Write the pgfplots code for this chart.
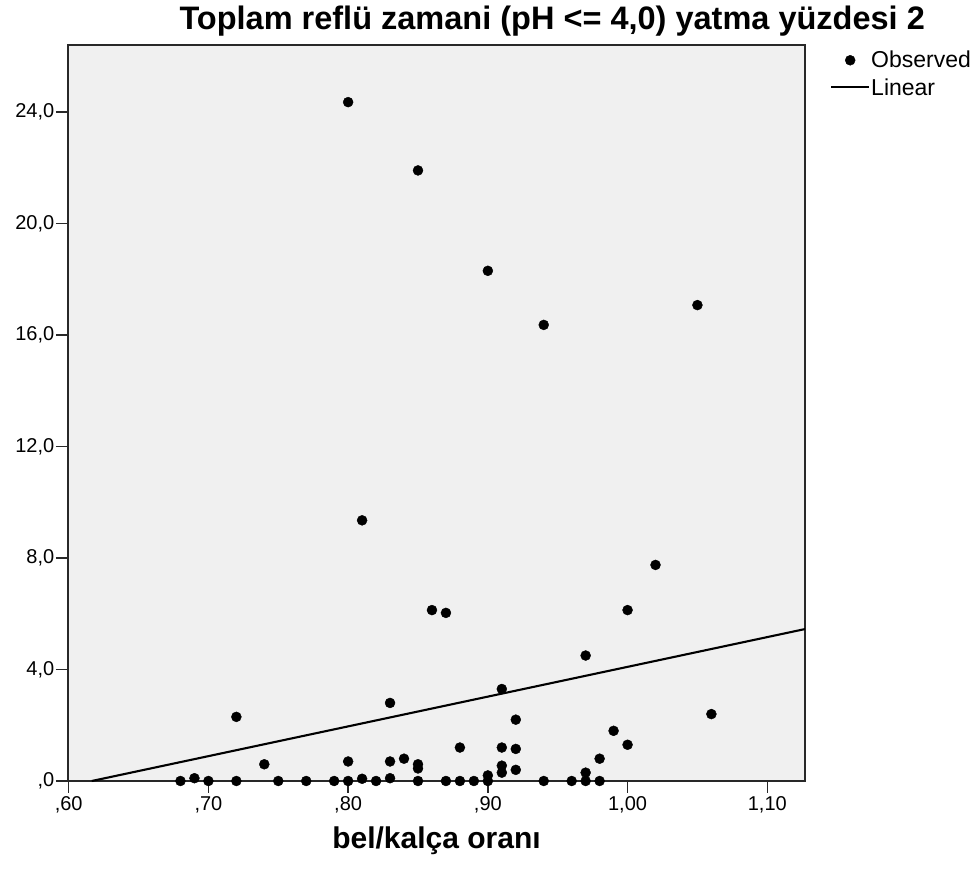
\documentclass[border=0pt]{standalone}
\usepackage{pgfplots}
\pgfplotsset{compat=1.18}
\usepackage{fontspec}
\setmainfont{Liberation Sans}
\definecolor{plotbg}{RGB}{240,240,240}
\definecolor{frame}{RGB}{40,40,40}
\pgfkeys{/pgfplots/obslegend/.code={\pgfplotsset{legend image code/.code={\draw[mark repeat=2,mark phase=2,##1] plot coordinates {(0pt,0pt) (19pt,0pt) (38pt,0pt)};}}}}
\pgfkeys{/pgfplots/linlegend/.code={\pgfplotsset{legend image code/.code={\draw[##1, line width=2pt] (0pt,0pt) -- (38pt,0pt);}}}}
\begin{document}
\begin{tikzpicture}
\begin{axis}[
  scale only axis,
  width=737pt, height=736pt,
  xmin=0.5995, xmax=1.127,
  ymin=0, ymax=26.4,
  clip=false,
  axis background/.style={fill=plotbg},
  axis line style={frame, line width=1.8pt},
  xtick={0.6,0.7,0.8,0.9,1.0,1.1},
  xticklabels={{,60},{,70},{,80},{,90},{1,00},{1,10}},
  ytick={0,4,8,12,16,20,24},
  yticklabels={{,0},{4,0},{8,0},{12,0},{16,0},{20,0},{24,0}},
  tick align=outside,
  major tick length=12pt,
  tick style={frame, line width=1.5pt},
  xtick pos=bottom, ytick pos=left,
  /pgf/number format/assume math mode=true,
  tick label style={font=\fontsize{20}{23}\selectfont, inner sep=1.5pt},
  xticklabel style={yshift=-2pt},
  xlabel={bel/kalça oranı},
  every axis x label/.style={at={(axis description cs:0.5,0)}, anchor=base, yshift=-67pt, font=\bfseries\fontsize{30}{34}\selectfont},
  legend style={at={(rel axis cs:1,1)}, anchor=north west, xshift=25pt, yshift=-5pt,
    draw=none, fill=none, inner sep=0pt, row sep=7pt,
    font=\fontsize{23}{26}\selectfont,
    nodes={inner sep=1pt}},
  legend cell align=left,
]
\addplot[only marks, mark=*, mark size=5pt, black, obslegend]
coordinates {
(0.68,0) (0.69,0.1) (0.70,0) (0.72,0) (0.75,0) (0.77,0) (0.79,0) (0.80,0)
(0.81,0.08) (0.82,0) (0.83,0.1) (0.85,0) (0.87,0) (0.88,0) (0.89,0) (0.90,0)
(0.90,0.2) (0.94,0) (0.96,0) (0.97,0) (0.97,0.3) (0.98,0)
(0.72,2.3) (0.74,0.6) (0.80,0.7) (0.83,0.7) (0.83,2.8) (0.84,0.8)
(0.85,0.6) (0.85,0.45) (0.88,1.2)
(0.91,3.3) (0.91,1.2) (0.91,0.55) (0.91,0.3)
(0.92,2.2) (0.92,1.15) (0.92,0.4)
(0.97,4.5) (0.98,0.8) (0.99,1.8) (1.00,1.3) (1.06,2.4)
(0.80,24.35) (0.85,21.9) (0.90,18.3) (0.94,16.36) (1.05,17.07)
(0.81,9.35) (0.86,6.13) (0.87,6.03) (1.02,7.75) (1.00,6.13)
};
\addlegendentry{Observed}
\addplot[black, line width=2.1pt, linlegend]
coordinates {(0.6165,0) (1.127,5.45)};
\addlegendentry{Linear}
\node[anchor=base, font=\bfseries\fontsize{32.5}{36}\selectfont] at ([yshift=15pt]rel axis cs:0.657,1) {Toplam reflü zamani (pH <= 4,0) yatma yüzdesi 2};
\path ([xshift=-68pt,yshift=-98pt]rel axis cs:0,0) rectangle ([xshift=171pt,yshift=45pt]rel axis cs:1,1);
\end{axis}
\end{tikzpicture}
\end{document}
